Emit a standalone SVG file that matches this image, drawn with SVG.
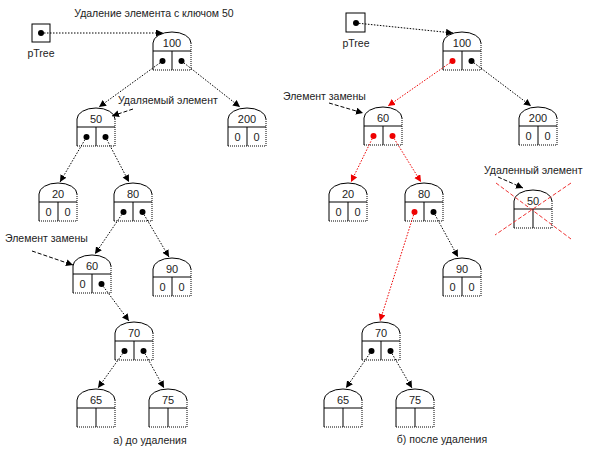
<svg xmlns="http://www.w3.org/2000/svg" xmlns:xlink="http://www.w3.org/1999/xlink" width="596" height="452" viewBox="0 0 596 452">
<style>
text{font-family:"Liberation Sans",Arial,sans-serif;font-size:11px;fill:#222}
.c{text-anchor:middle}
.t{font-size:10.5px}
.s{fill:none;stroke:#000;stroke-width:1}
.d{fill:none;stroke:#000;stroke-width:1;stroke-dasharray:1 1}
.e{fill:none;stroke:#000;stroke-width:1;stroke-dasharray:1.5 1.5}
.r{fill:none;stroke:#e00;stroke-width:1;stroke-dasharray:1.5 1.5}
.a{fill:none;stroke:#000;stroke-width:1;stroke-dasharray:4 2}
.x{fill:none;stroke:#e33;stroke-width:1;stroke-dasharray:4 2}
.dot{fill:#000}
.rdot{fill:#e00}
</style>
<defs>
<marker id="ah" markerWidth="8" markerHeight="8" refX="7" refY="3.5" orient="auto" markerUnits="userSpaceOnUse"><path d="M0,0 L7,3.5 L0,7 Z" fill="#000"/></marker>
<marker id="ahr" markerWidth="8" markerHeight="8" refX="7" refY="3.5" orient="auto" markerUnits="userSpaceOnUse"><path d="M0,0 L7,3.5 L0,7 Z" fill="#e00"/></marker>
<g id="shape">
<path class="s" d="M0,19 V11 A19,11 0 0 1 38,11"/>
<path class="d" d="M38,11 V19"/>
<path class="s" d="M0,19 H38 M0,19 V38 M19,19 V38"/>
<path class="d" d="M38,19 V38 H0"/>
</g>
</defs>

<text x="154" y="17" class="c t">Удаление элемента с ключом 50</text>

<g id="ptree-a">
<rect x="32" y="24" width="18" height="18" class="s"/>
<circle cx="41" cy="33" r="3" class="dot"/>
<text x="41" y="57" class="c t">pTree</text>
</g>
<g id="ptree-b">
<rect x="346" y="13" width="19" height="19" class="s"/>
<circle cx="356" cy="23" r="3" class="dot"/>
<text x="356" y="47" class="c t">pTree</text>
</g>

<!-- left tree nodes -->
<g id="a100" transform="translate(153,32)"><use xlink:href="#shape"/><text x="19" y="15" class="c">100</text><circle cx="9.5" cy="29" r="3" class="dot"/><circle cx="28.5" cy="29" r="3" class="dot"/></g>
<g id="a50" transform="translate(77,108)"><use xlink:href="#shape"/><text x="19" y="15" class="c">50</text><circle cx="9.5" cy="29" r="3" class="dot"/><circle cx="28.5" cy="29" r="3" class="dot"/></g>
<g id="a200" transform="translate(228,108)"><use xlink:href="#shape"/><text x="19" y="15" class="c">200</text><text x="9.5" y="33" class="c">0</text><text x="28.5" y="33" class="c">0</text></g>
<g id="a20" transform="translate(39,183)"><use xlink:href="#shape"/><text x="19" y="15" class="c">20</text><text x="9.5" y="33" class="c">0</text><text x="28.5" y="33" class="c">0</text></g>
<g id="a80" transform="translate(114,183)"><use xlink:href="#shape"/><text x="19" y="15" class="c">80</text><circle cx="9.5" cy="29" r="3" class="dot"/><circle cx="28.5" cy="29" r="3" class="dot"/></g>
<g id="a60" transform="translate(73,255)"><use xlink:href="#shape"/><text x="19" y="15" class="c">60</text><text x="9.5" y="33" class="c">0</text><circle cx="28.5" cy="29" r="3" class="dot"/></g>
<g id="a90" transform="translate(153,258)"><use xlink:href="#shape"/><text x="19" y="15" class="c">90</text><text x="9.5" y="33" class="c">0</text><text x="28.5" y="33" class="c">0</text></g>
<g id="a70" transform="translate(115,322)"><use xlink:href="#shape"/><text x="19" y="15" class="c">70</text><circle cx="9.5" cy="29" r="3" class="dot"/><circle cx="28.5" cy="29" r="3" class="dot"/></g>
<g id="a65" transform="translate(77,389)"><use xlink:href="#shape"/><text x="19" y="15" class="c">65</text></g>
<g id="a75" transform="translate(149,389)"><use xlink:href="#shape"/><text x="19" y="15" class="c">75</text></g>

<!-- right tree nodes -->
<g id="b100" transform="translate(443,32)"><use xlink:href="#shape"/><text x="19" y="15" class="c">100</text><circle cx="9.5" cy="29" r="3" class="rdot"/><circle cx="28.5" cy="29" r="3" class="dot"/></g>
<g id="b60" transform="translate(364,107)"><use xlink:href="#shape"/><text x="19" y="15" class="c">60</text><circle cx="9.5" cy="29" r="3" class="rdot"/><circle cx="28.5" cy="29" r="3" class="rdot"/></g>
<g id="b200" transform="translate(519,107)"><use xlink:href="#shape"/><text x="19" y="15" class="c">200</text><text x="9.5" y="33" class="c">0</text><text x="28.5" y="33" class="c">0</text></g>
<g id="b20" transform="translate(329,183)"><use xlink:href="#shape"/><text x="19" y="15" class="c">20</text><text x="9.5" y="33" class="c">0</text><text x="28.5" y="33" class="c">0</text></g>
<g id="b80" transform="translate(405,183)"><use xlink:href="#shape"/><text x="19" y="15" class="c">80</text><circle cx="9.5" cy="29" r="3" class="rdot"/><circle cx="28.5" cy="29" r="3" class="dot"/></g>
<g id="b50" transform="translate(514,190)"><use xlink:href="#shape"/><text x="19" y="15" class="c">50</text></g>
<g id="b90" transform="translate(443,258)"><use xlink:href="#shape"/><text x="19" y="15" class="c">90</text><text x="9.5" y="33" class="c">0</text><text x="28.5" y="33" class="c">0</text></g>
<g id="b70" transform="translate(362,322)"><use xlink:href="#shape"/><text x="19" y="15" class="c">70</text><circle cx="9.5" cy="29" r="3" class="dot"/><circle cx="28.5" cy="29" r="3" class="dot"/></g>
<g id="b65" transform="translate(324,389)"><use xlink:href="#shape"/><text x="19" y="15" class="c">65</text></g>
<g id="b75" transform="translate(396,389)"><use xlink:href="#shape"/><text x="19" y="15" class="c">75</text></g>

<g id="connectors">
<path class="e" d="M41,33 L163,33" marker-end="url(#ah)"/>
<path class="e" d="M162.5,61 L99,107" marker-end="url(#ah)"/>
<path class="e" d="M181.5,61 L240,107" marker-end="url(#ah)"/>
<path class="e" d="M86.5,137 L60,182" marker-end="url(#ah)"/>
<path class="e" d="M105.5,137 L129,182" marker-end="url(#ah)"/>
<path class="e" d="M123.5,212 L95,254" marker-end="url(#ah)"/>
<path class="e" d="M142.5,212 L169,257" marker-end="url(#ah)"/>
<path class="e" d="M101.5,284 L129,321" marker-end="url(#ah)"/>
<path class="e" d="M124.5,351 L98,388" marker-end="url(#ah)"/>
<path class="e" d="M143.5,351 L164,388" marker-end="url(#ah)"/>
<path class="a" d="M133,109 L112,116" marker-end="url(#ah)"/>
<path class="a" d="M32,251 L73,265" marker-end="url(#ah)"/>

<path class="e" d="M356,23 L453,33" marker-end="url(#ah)"/>
<path class="r" d="M452.5,61 L388,106" marker-end="url(#ahr)"/>
<path class="e" d="M471.5,61 L531,106" marker-end="url(#ah)"/>
<path class="r" d="M373.5,136 L351,182" marker-end="url(#ahr)"/>
<path class="r" d="M392.5,136 L421,182" marker-end="url(#ahr)"/>
<path class="r" d="M414.5,212 L380,321" marker-end="url(#ahr)"/>
<path class="e" d="M433.5,212 L458,257" marker-end="url(#ah)"/>
<path class="e" d="M371.5,351 L346,388" marker-end="url(#ah)"/>
<path class="e" d="M390.5,351 L412,388" marker-end="url(#ah)"/>
<path class="a" d="M329,103 L363,113" marker-end="url(#ah)"/>
<path class="a" d="M498,177 L523,188" marker-end="url(#ah)"/>
<path class="x" d="M496,183 L571,239 M571,183 L495,235"/>
</g>

<text x="118" y="104" class="t">Удаляемый элемент</text>
<text x="5" y="242" class="t">Элемент замены</text>
<text x="283" y="100" class="t">Элемент замены</text>
<text x="484" y="174" class="t">Удаленный элемент</text>
<text x="150" y="444" class="c t">а) до удаления</text>
<text x="442" y="443" class="c t">б) после удаления</text>
</svg>
